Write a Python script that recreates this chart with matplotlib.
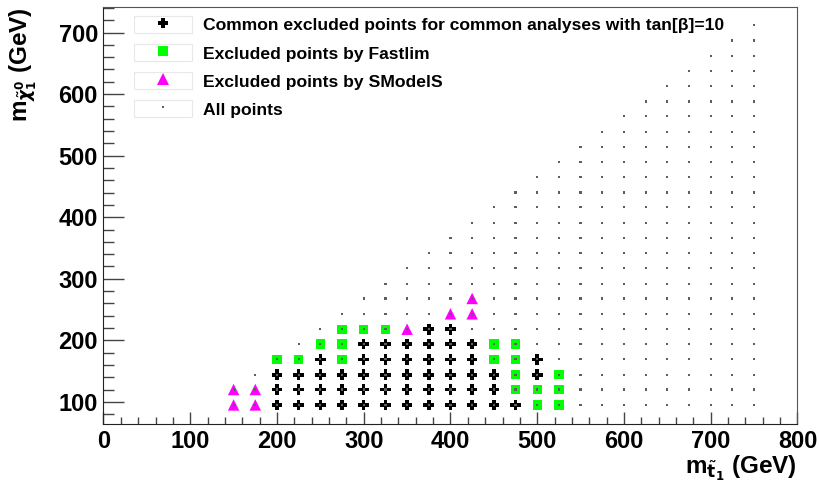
import matplotlib
matplotlib.use("Agg")
import matplotlib.pyplot as plt
from matplotlib.lines import Line2D
from matplotlib.patches import Rectangle
from matplotlib.legend_handler import HandlerTuple
from matplotlib.ticker import MultipleLocator

plt.rcParams['font.family'] = ['Liberation Sans', 'DejaVu Sans']
plt.rcParams['font.weight'] = 'bold'

# scan grid: stop masses (x) and neutralino masses (y)
stop_mass = [150, 175, 200, 225, 250, 275, 300, 325, 350, 375, 400, 425, 450,
             475, 500, 525, 550, 575, 600, 625, 650, 675, 700, 725, 750]
lsp_mass = [95, 120, 144, 169, 194, 218, 243, 268, 292, 317, 342, 366, 391,
            416, 440, 465, 490, 514, 539, 564, 588, 613, 638, 662, 687, 712]
# number of neutralino rows scanned in each stop column
n_rows = [2, 3, 4, 5, 6, 7, 8, 9, 10, 11, 12, 13, 14,
          15, 16, 17, 18, 19, 20, 21, 22, 23, 24, 25, 26]

# excluded points, listed per neutralino row (row index -> stop masses)
common_rows = [
    [200, 225, 250, 275, 300, 325, 350, 375, 400, 425, 450, 475],
    [200, 225, 250, 275, 300, 325, 350, 375, 400, 425, 450],
    [200, 225, 250, 275, 300, 325, 350, 375, 400, 425, 450, 500],
    [250, 300, 325, 350, 375, 400, 425, 500],
    [300, 325, 350, 375, 400, 425],
    [375, 400],
]
fastlim_rows = [
    [500, 525],
    [475, 500, 525],
    [475, 525],
    [200, 225, 275, 450, 475],
    [250, 275, 450, 475],
    [275, 300, 325],
]
smodels_rows = [
    [150, 175],
    [150, 175],
    [],
    [],
    [],
    [350],
    [400, 425],
    [425],
]


def unpack(rows):
    xs, ys = [], []
    for i, row in enumerate(rows):
        for x in row:
            xs.append(x)
            ys.append(lsp_mass[i])
    return xs, ys


all_x, all_y = [], []
for x, n in zip(stop_mass, n_rows):
    for y in lsp_mass[:n]:
        all_x.append(x)
        all_y.append(y)

com_x, com_y = unpack(common_rows)
fl_x, fl_y = unpack(fastlim_rows)
sm_x, sm_y = unpack(smodels_rows)

fig = plt.figure(figsize=(8.2, 5), dpi=100)
ax = fig.add_axes([0.1262, 0.152, 0.8463, 0.8346])

green = '#00ff00'
magenta = '#ff00ff'
dot_col = '#5e5e5e'

ax.scatter(fl_x, fl_y, marker='s', s=46, color=green, edgecolors='none', zorder=2)
ax.scatter(sm_x, sm_y, marker='^', s=68, color=magenta, edgecolors='none', zorder=2)
ax.scatter(com_x, com_y, marker='P', s=58, color='black', edgecolors='none', zorder=3)
ax.scatter(all_x, all_y, marker='s', s=2.5, color=dot_col, edgecolors='none', zorder=4)

ax.set_xlim(0, 800)
ax.set_ylim(64, 742)

ax.xaxis.set_major_locator(MultipleLocator(100))
ax.xaxis.set_minor_locator(MultipleLocator(20))
ax.yaxis.set_major_locator(MultipleLocator(100))
ax.yaxis.set_minor_locator(MultipleLocator(20))

ax.tick_params(axis='both', which='both', direction='in', colors='#444', labelcolor='black',
               labelsize=17, top=False, right=False)
ax.tick_params(axis='x', which='major', length=9, width=1, pad=4)
ax.tick_params(axis='x', which='minor', length=4.7, width=1)
ax.tick_params(axis='y', which='major', length=15, width=1, pad=4)
ax.tick_params(axis='y', which='minor', length=7.7, width=1)
for lab in ax.get_xticklabels() + ax.get_yticklabels():
    lab.set_fontweight('bold')

for side in ['left', 'bottom']:
    ax.spines[side].set_color('#222')
for side in ['top', 'right']:
    ax.spines[side].set_color('#555')

# axis titles (ROOT style, right/top aligned)
fig.text(797 / 820, 1 - 474 / 500, r'm$_{\tilde{\mathbf{t}}_{\mathbf{1}}}$ (GeV)',
         fontsize=17.5, fontweight='bold', ha='right', va='baseline')
fig.text(28 / 820, 1 - 7 / 500, r'm$_{\tilde{\chi}^{0}_{1}}$ (GeV)',
         fontsize=17.5, fontweight='bold', ha='right', va='baseline',
         rotation=90, rotation_mode='anchor')


def box():
    return Rectangle((0, 0), 1, 1, facecolor='none', edgecolor='#e8e8e8', linewidth=0.8)


handles = [
    (box(), Line2D([], [], marker='P', markersize=7.6, color='black', linestyle='none',
                   markeredgewidth=0)),
    (box(), Line2D([], [], marker='s', markersize=6.8, color=green, linestyle='none',
                   markeredgewidth=0)),
    (box(), Line2D([], [], marker='^', markersize=8.2, color=magenta, linestyle='none',
                   markeredgewidth=0)),
    (box(), Line2D([], [], marker='s', markersize=1.6, color=dot_col, linestyle='none',
                   markeredgewidth=0)),
]
labels = [
    'Common excluded points for common analyses with tan[β]=10',
    'Excluded points by Fastlim',
    'Excluded points by SModelS',
    'All points',
]
ax.legend(handles, labels, handler_map={tuple: HandlerTuple(ndivide=1)},
          loc='upper left', bbox_to_anchor=(0.044, 0.978), frameon=False,
          borderpad=0, borderaxespad=0, handlelength=3.3,
          handleheight=1.14, handletextpad=0.62, labelspacing=0.6,
          prop={'weight': 'bold', 'size': 12.6})

fig.savefig('out.png', dpi=100)
